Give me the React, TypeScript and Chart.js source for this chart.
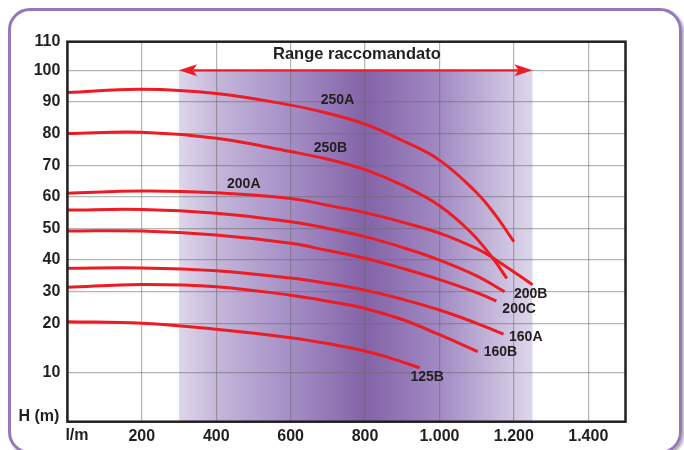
import React, { useEffect, useRef } from 'react';
import { Chart, registerables, LinearScale } from 'chart.js';

// ---------- data ----------
const X_TICKS = [0, 200, 400, 600, 800, 1000, 1200, 1400];
const Y_TICKS = [10, 20, 30, 40, 50, 60, 70, 80, 90, 100, 110];

// non-linear head axis of the original (values -> fraction of the plot height)
const AXIS_H = [0, 10, 20, 100, 110];
const AXIS_FRAC = [0, 0.1289, 0.2589, 0.9247, 1];

const Q_250A = [0, 200, 400, 600, 700, 800, 900, 1000, 1100, 1150, 1200];
const H_250A = [93.0, 94.0, 92.7, 89.0, 86.4, 83.0, 77.8, 71.6, 61.3, 54.3, 45.8];

const Q_250B = [0, 200, 400, 600, 700, 800, 900, 1000, 1084, 1147, 1181];
const H_250B = [80.0, 80.4, 78.5, 74.3, 71.9, 68.6, 63.7, 57.2, 48.8, 40.0, 34.2];

const Q_200A = [0, 200, 400, 600, 700, 800, 900, 1000, 1100, 1150, 1250];
const H_200A = [61.1, 61.8, 61.3, 59.5, 57.3, 55.0, 52.0, 48.5, 43.6, 40.2, 32.2];

const Q_200B = [0, 200, 400, 600, 700, 800, 900, 1000, 1100, 1175];
const H_200B = [55.8, 56.0, 54.8, 52.1, 50.0, 47.4, 44.0, 40.0, 35.0, 30.0];

const Q_200C = [0, 200, 400, 600, 700, 800, 900, 1000, 1100, 1153];
const H_200C = [49.2, 49.2, 47.9, 45.3, 43.0, 40.6, 37.4, 33.8, 29.7, 27.0];

const Q_160A = [0, 200, 400, 600, 700, 800, 900, 1000, 1100, 1172];
const H_160A = [37.4, 37.5, 36.6, 34.3, 32.6, 30.5, 27.6, 24.2, 20.0, 17.8];

const Q_160B = [0, 200, 400, 600, 700, 800, 900, 1000, 1103];
const H_160B = [31.4, 32.3, 31.6, 28.9, 27.0, 24.7, 21.2, 17.7, 14.25];

const Q_125B = [0, 200, 400, 600, 700, 800, 870, 947];
const H_125B = [20.5, 20.0, 18.8, 17.1, 15.9, 14.4, 12.9, 11.0];

const SERIES_NAMES = ['250A', '250B', '200A', '200B', '200C', '160A', '160B', '125B'];
const SERIES_Q = [Q_250A, Q_250B, Q_200A, Q_200B, Q_200C, Q_160A, Q_160B, Q_125B];
const SERIES_H = [H_250A, H_250B, H_200A, H_200B, H_200C, H_160A, H_160B, H_125B];

const LABEL_Q = [726, 707, 474, 1245, 1214, 1232, 1164, 967];
const LABEL_H = [90.5, 75.5, 64.0, 29.3, 24.6, 17.3, 14.2, 9.1];

const RANGE_Q = [300, 1250];
const RANGE_H = 100;
const RANGE_TEXT = 'Range raccomandato';
const RANGE_TEXT_Q = 778;
const RANGE_TEXT_H = 105.7;

const X_UNIT = 'l/m';
const Y_UNIT = 'H (m)';

// ---------- styles ----------
const FONT_FAMILY = '"Liberation Sans", Arial, Helvetica, sans-serif';
const TEXT = '#231f20';
const RED = '#ec1c24';
const GRID = 'rgba(105,105,105,0.5)';

function warp(v: number): number {
  const n = AXIS_H.length;
  if (v <= AXIS_H[0]) return AXIS_FRAC[0] + (v - AXIS_H[0]) * (AXIS_FRAC[1] - AXIS_FRAC[0]) / (AXIS_H[1] - AXIS_H[0]);
  for (let i = 1; i < n; i++) {
    if (v <= AXIS_H[i]) {
      const t = (v - AXIS_H[i - 1]) / (AXIS_H[i] - AXIS_H[i - 1]);
      return AXIS_FRAC[i - 1] + t * (AXIS_FRAC[i] - AXIS_FRAC[i - 1]);
    }
  }
  return AXIS_FRAC[n - 1] + (v - AXIS_H[n - 1]) * (AXIS_FRAC[n - 1] - AXIS_FRAC[n - 2]) / (AXIS_H[n - 1] - AXIS_H[n - 2]);
}
function unwarp(d: number): number {
  const n = AXIS_FRAC.length;
  for (let i = 1; i < n; i++) {
    if (d <= AXIS_FRAC[i] || i === n - 1) {
      const t = (d - AXIS_FRAC[i - 1]) / (AXIS_FRAC[i] - AXIS_FRAC[i - 1]);
      return AXIS_H[i - 1] + t * (AXIS_H[i] - AXIS_H[i - 1]);
    }
  }
  return AXIS_H[n - 1];
}

class WarpScale extends LinearScale {
  static id = 'warp';
  static defaults = LinearScale.defaults;
  getPixelForValue(value: any) {
    if (value === null || value === undefined) return NaN;
    return this.getPixelForDecimal(warp(value));
  }
  getValueForPixel(pixel: number) {
    return unwarp(this.getDecimalForPixel(pixel));
  }
}

Chart.register(...registerables, WarpScale as any);

function fmtThousands(v: number): string {
  if (v === 0) return '';
  if (v >= 1000) return `${Math.floor(v / 1000)}.${String(v % 1000).padStart(3, '0')}`;
  return String(v);
}

const overlay = {
  id: 'overlay',
  beforeDraw(chart: any) {
    const { ctx, chartArea: a, scales } = chart;
    const x = scales.x, y = scales.y;
    const x0 = x.getPixelForValue(RANGE_Q[0]);
    const x1 = x.getPixelForValue(RANGE_Q[1]);
    const yt = y.getPixelForValue(RANGE_H);
    const g = ctx.createLinearGradient(x0, 0, x1, 0);
    g.addColorStop(0, '#ded7eb');
    g.addColorStop(0.105, '#c5b7da');
    g.addColorStop(0.316, '#a48ec5');
    g.addColorStop(0.526, '#8463a8');
    g.addColorStop(0.737, '#a18ac3');
    g.addColorStop(0.947, '#d2c8e3');
    g.addColorStop(1, '#ddd6ea');
    ctx.save();
    ctx.fillStyle = g;
    ctx.fillRect(x0, yt, x1 - x0, a.bottom - yt);
    ctx.restore();
  },
  afterDatasetsDraw(chart: any) {
    const { ctx, chartArea: a, scales } = chart;
    const x = scales.x, y = scales.y;
    ctx.save();
    // frame
    ctx.strokeStyle = TEXT;
    ctx.lineWidth = 2.5;
    ctx.strokeRect(a.left, a.top, a.right - a.left, a.bottom - a.top);

    // range arrow
    const ax0 = x.getPixelForValue(RANGE_Q[0]);
    const ax1 = x.getPixelForValue(RANGE_Q[1]);
    const ay = y.getPixelForValue(RANGE_H);
    ctx.strokeStyle = RED;
    ctx.fillStyle = RED;
    ctx.lineWidth = 2.2;
    ctx.beginPath();
    ctx.moveTo(ax0 + 10, ay);
    ctx.lineTo(ax1 - 10, ay);
    ctx.stroke();
    const head = (tip: number, dir: number) => {
      ctx.beginPath();
      ctx.moveTo(tip, ay);
      ctx.lineTo(tip - dir * 18, ay - 6);
      ctx.lineTo(tip - dir * 14, ay);
      ctx.lineTo(tip - dir * 18, ay + 6);
      ctx.closePath();
      ctx.fill();
    };
    head(ax1, 1);
    head(ax0, -1);

    // range text
    ctx.fillStyle = TEXT;
    ctx.font = `bold 16.5px ${FONT_FAMILY}`;
    ctx.textAlign = 'center';
    ctx.textBaseline = 'middle';
    ctx.fillText(RANGE_TEXT, x.getPixelForValue(RANGE_TEXT_Q), y.getPixelForValue(RANGE_TEXT_H));

    // series labels
    ctx.font = `bold 14px ${FONT_FAMILY}`;
    for (let i = 0; i < SERIES_NAMES.length; i++) {
      ctx.fillText(SERIES_NAMES[i], x.getPixelForValue(LABEL_Q[i]), y.getPixelForValue(LABEL_H[i]));
    }

    // axis unit labels
    ctx.font = `bold 16px ${FONT_FAMILY}`;
    ctx.textAlign = 'left';
    ctx.fillText(X_UNIT, a.left - 2, a.bottom + 14);
    ctx.textAlign = 'right';
    ctx.fillText(Y_UNIT, a.left - 8, a.bottom - 5.5);
    ctx.restore();
  },
};

export default function App() {
  const canvasRef = useRef<HTMLCanvasElement | null>(null);

  useEffect(() => {
    const canvas = canvasRef.current;
    if (!canvas) return;
    const datasets = SERIES_NAMES.map((name, i) => ({
      label: name,
      data: SERIES_Q[i].map((q, j) => ({ x: q, y: SERIES_H[i][j] })),
      borderColor: RED,
      backgroundColor: RED,
      borderWidth: 3,
      pointRadius: 0,
      tension: 0.4,
      fill: false,
    }));
    const tickFont = { family: FONT_FAMILY, size: 16, weight: 'bold' as const };
    const chart = new Chart(canvas, {
      type: 'line',
      data: { datasets },
      options: {
        responsive: false,
        animation: false,
        events: [],
        layout: { padding: { left: 0, top: 41.7, right: 58.5, bottom: 0 } },
        plugins: { legend: { display: false }, tooltip: { enabled: false } },
        scales: {
          x: {
            type: 'linear',
            min: 0,
            max: 1500,
            afterBuildTicks: (s: any) => { s.ticks = X_TICKS.map((v) => ({ value: v })); },
            afterFit: (s: any) => { s.height = 28.3; },
            grid: { color: GRID, lineWidth: 1.2, drawTicks: false },
            border: { display: false },
            ticks: {
              padding: 5,
              autoSkip: false,
              maxRotation: 0,
              color: TEXT,
              font: tickFont,
              callback: (v: any) => fmtThousands(Number(v)),
            },
          },
          y: {
            type: 'warp' as any,
            min: 0,
            max: 110,
            afterBuildTicks: (s: any) => { s.ticks = Y_TICKS.map((v) => ({ value: v })); },
            afterFit: (s: any) => { s.width = 67.4; },
            grid: { color: GRID, lineWidth: 1.2, drawTicks: false },
            border: { display: false },
            ticks: {
              padding: 7,
              autoSkip: false,
              color: TEXT,
              font: tickFont,
              callback: (v: any) => String(v),
            },
          },
        },
      } as any,
      plugins: [overlay],
    });
    return () => chart.destroy();
  }, []);

  return (
    <div style={{ position: 'fixed', left: 0, top: 0, width: 684, height: 450, overflow: 'hidden', background: '#ffffff' }}>
      <div
        style={{
          position: 'absolute',
          left: 8,
          top: 8,
          width: 668,
          height: 440,
          border: '3px solid #9777bb',
          borderRadius: 22,
          boxShadow: '2px 2px 3px rgba(0,0,0,0.35)',
        }}
      />
      <canvas ref={canvasRef} width={684} height={450} style={{ position: 'absolute', left: 0, top: 0 }} />
    </div>
  );
}
